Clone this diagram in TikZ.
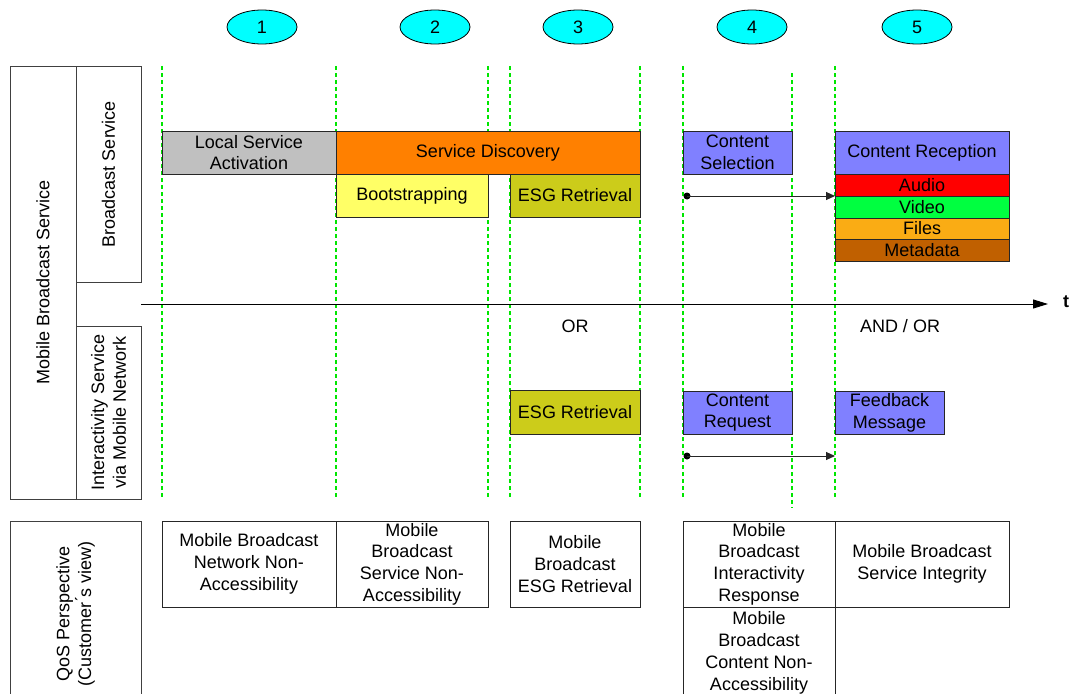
\documentclass[tikz,border=0pt]{standalone}
\usepackage{fontspec}
\setmainfont{Liberation Sans}
\usetikzlibrary{arrows.meta,shapes.geometric}

\definecolor{phasecyan}{RGB}{0,255,255}
\definecolor{cgray}{RGB}{192,192,192}
\definecolor{corange}{RGB}{255,128,0}
\definecolor{cyellow}{RGB}{255,255,102}
\definecolor{colive}{RGB}{204,204,26}
\definecolor{cviolet}{RGB}{128,128,255}
\definecolor{cred}{RGB}{255,0,0}
\definecolor{cgreen}{RGB}{0,255,64}
\definecolor{cfiles}{RGB}{250,172,20}
\definecolor{cmeta}{RGB}{192,96,0}
\definecolor{gridgreen}{RGB}{0,230,0}

\begin{document}
\begin{tikzpicture}[x=1pt,y=-1pt,
  every node/.style={font=\fontsize{18}{21.7}\selectfont, inner sep=0pt, outer sep=0pt},
  cell/.style={draw=black!85, line width=0.9pt, rectangle, anchor=north west, align=center},
  rowlabel/.style={draw=black!75, line width=0.9pt, rectangle, rotate=90, align=center},
  marker/.style={ellipse, draw=black, line width=0.8pt, fill=phasecyan,
                 minimum width=70pt, minimum height=34pt},
  gridline/.style={gridgreen, dashed, dash pattern=on 4pt off 3pt, line width=1.3pt},
  flow/.style={draw=black!85, line width=1pt, -{Triangle[length=9pt,width=8pt]}},
  timeaxis/.style={draw=black, line width=1pt, -{Triangle[length=15pt,width=9pt]}},
  dot/.style={circle, fill=black, minimum size=7pt}
]
\useasboundingbox (0,0) rectangle (1070,693);
\clip (0,0) rectangle (1070,693);

% phase boundaries (behind the phase boxes)
\foreach \xx in {162,336,488,510,640,683,835}
  \draw[gridline] (\xx,66) -- (\xx,499);
\draw[gridline] (792,73) -- (792,508);

% phase markers
\node[marker] (m1) at (262,27) {1};
\node[marker] (m2) at (435,27) {2};
\node[marker] (m3) at (578,27) {3};
\node[marker] (m4) at (752,27) {4};
\node[marker] (m5) at (917,27) {5};

% left row headings
\node[rowlabel, minimum width=433pt, minimum height=66pt] (mbs) at (43,282.5) {Mobile Broadcast Service};
\node[rowlabel, minimum width=216pt, minimum height=65pt] (bcs) at (108.5,174) {Broadcast Service};
\node[rowlabel, minimum width=173pt, minimum height=65pt] (ias) at (108.5,412.5) {Interactivity Service\\via Mobile Network};
\node[rowlabel, minimum width=186pt, minimum height=131pt] (qos) at (75.5,614) {QoS Perspective\\(Customer\'{}s view)};

% broadcast service phases
\node[cell, fill=cgray, minimum width=174pt, minimum height=43pt] (lsa) at (162,131) {Local Service\\Activation};
\node[cell, fill=corange, minimum width=304pt, minimum height=43pt] (sd) at (336,131) {Service Discovery};
\node[cell, fill=cyellow, minimum width=152pt, minimum height=43pt] (boot) at (336,174) {Bootstrapping};
\node[cell, fill=colive, minimum width=130pt, minimum height=43pt] (esg) at (510,174) {ESG Retrieval};
\node[cell, fill=cviolet, minimum width=109pt, minimum height=43pt] (csel) at (683,131) {Content\\Selection};
\node[cell, fill=cviolet, minimum width=174pt, minimum height=43pt] (crec) at (835,131) {Content Reception};
\node[cell, fill=cred, minimum width=174pt, minimum height=22pt] (aud) at (835,174) {Audio};
\node[cell, fill=cgreen, minimum width=174pt, minimum height=22pt] (vid) at (835,196) {Video};
\node[cell, fill=cfiles, minimum width=174pt, minimum height=21pt] (fil) at (835,218) {Files};
\node[cell, fill=cmeta, minimum width=174pt, minimum height=22pt] (met) at (835,239) {Metadata};

% interactivity phases
\node[cell, fill=colive, minimum width=130pt, minimum height=44pt] (esgi) at (510,390) {ESG Retrieval};
\node[cell, fill=cviolet, minimum width=109pt, minimum height=43pt] (creq) at (683,391) {Content\\Request};
\node[cell, fill=cviolet, minimum width=109pt, minimum height=43pt] (fbm) at (835,391) {Feedback\\Message};

\node (or) at (575,326) {OR};
\node (andor) at (900,326) {AND / OR};

% QoS parameters
\node[cell, minimum width=174pt, minimum height=86pt] (q1) at (162,521) {Mobile Broadcast\\Network Non-\\Accessibility};
\node[cell, minimum width=152pt, minimum height=86pt] (q2) at (336,521) {Mobile\\Broadcast\\Service Non-\\Accessibility};
\node[cell, minimum width=130pt, minimum height=86pt] (q3) at (510,521) {Mobile\\Broadcast\\ESG Retrieval};
\node[cell, minimum width=152pt, minimum height=86pt] (q4) at (683,521) {Mobile\\Broadcast\\Interactivity\\Response};
\node[cell, minimum width=174pt, minimum height=86pt] (q5) at (835,521) {Mobile Broadcast\\Service Integrity};
\node[cell, minimum width=152pt, minimum height=88pt, text depth=0pt] (q6) at (683,607) {Mobile\\Broadcast\\Content Non-\\Accessibility};

% time axis
\coordinate (tstart) at (141,304);
\coordinate (tend) at (1048,304);
\draw[timeaxis] (tstart) -- (tend);
\node[font=\fontsize{18}{21.7}\selectfont\bfseries] (tlab) at (1066,302) {t};

% transitions from selection/request to reception/feedback
\node[dot] (d1) at (687,196) {};
\draw[flow] (d1.center) -- (aud.south west);
\node[dot] (d2) at (687,456) {};
\coordinate (fbin) at (835,456);
\draw[flow] (d2.center) -- (fbin);
\end{tikzpicture}
\end{document}
